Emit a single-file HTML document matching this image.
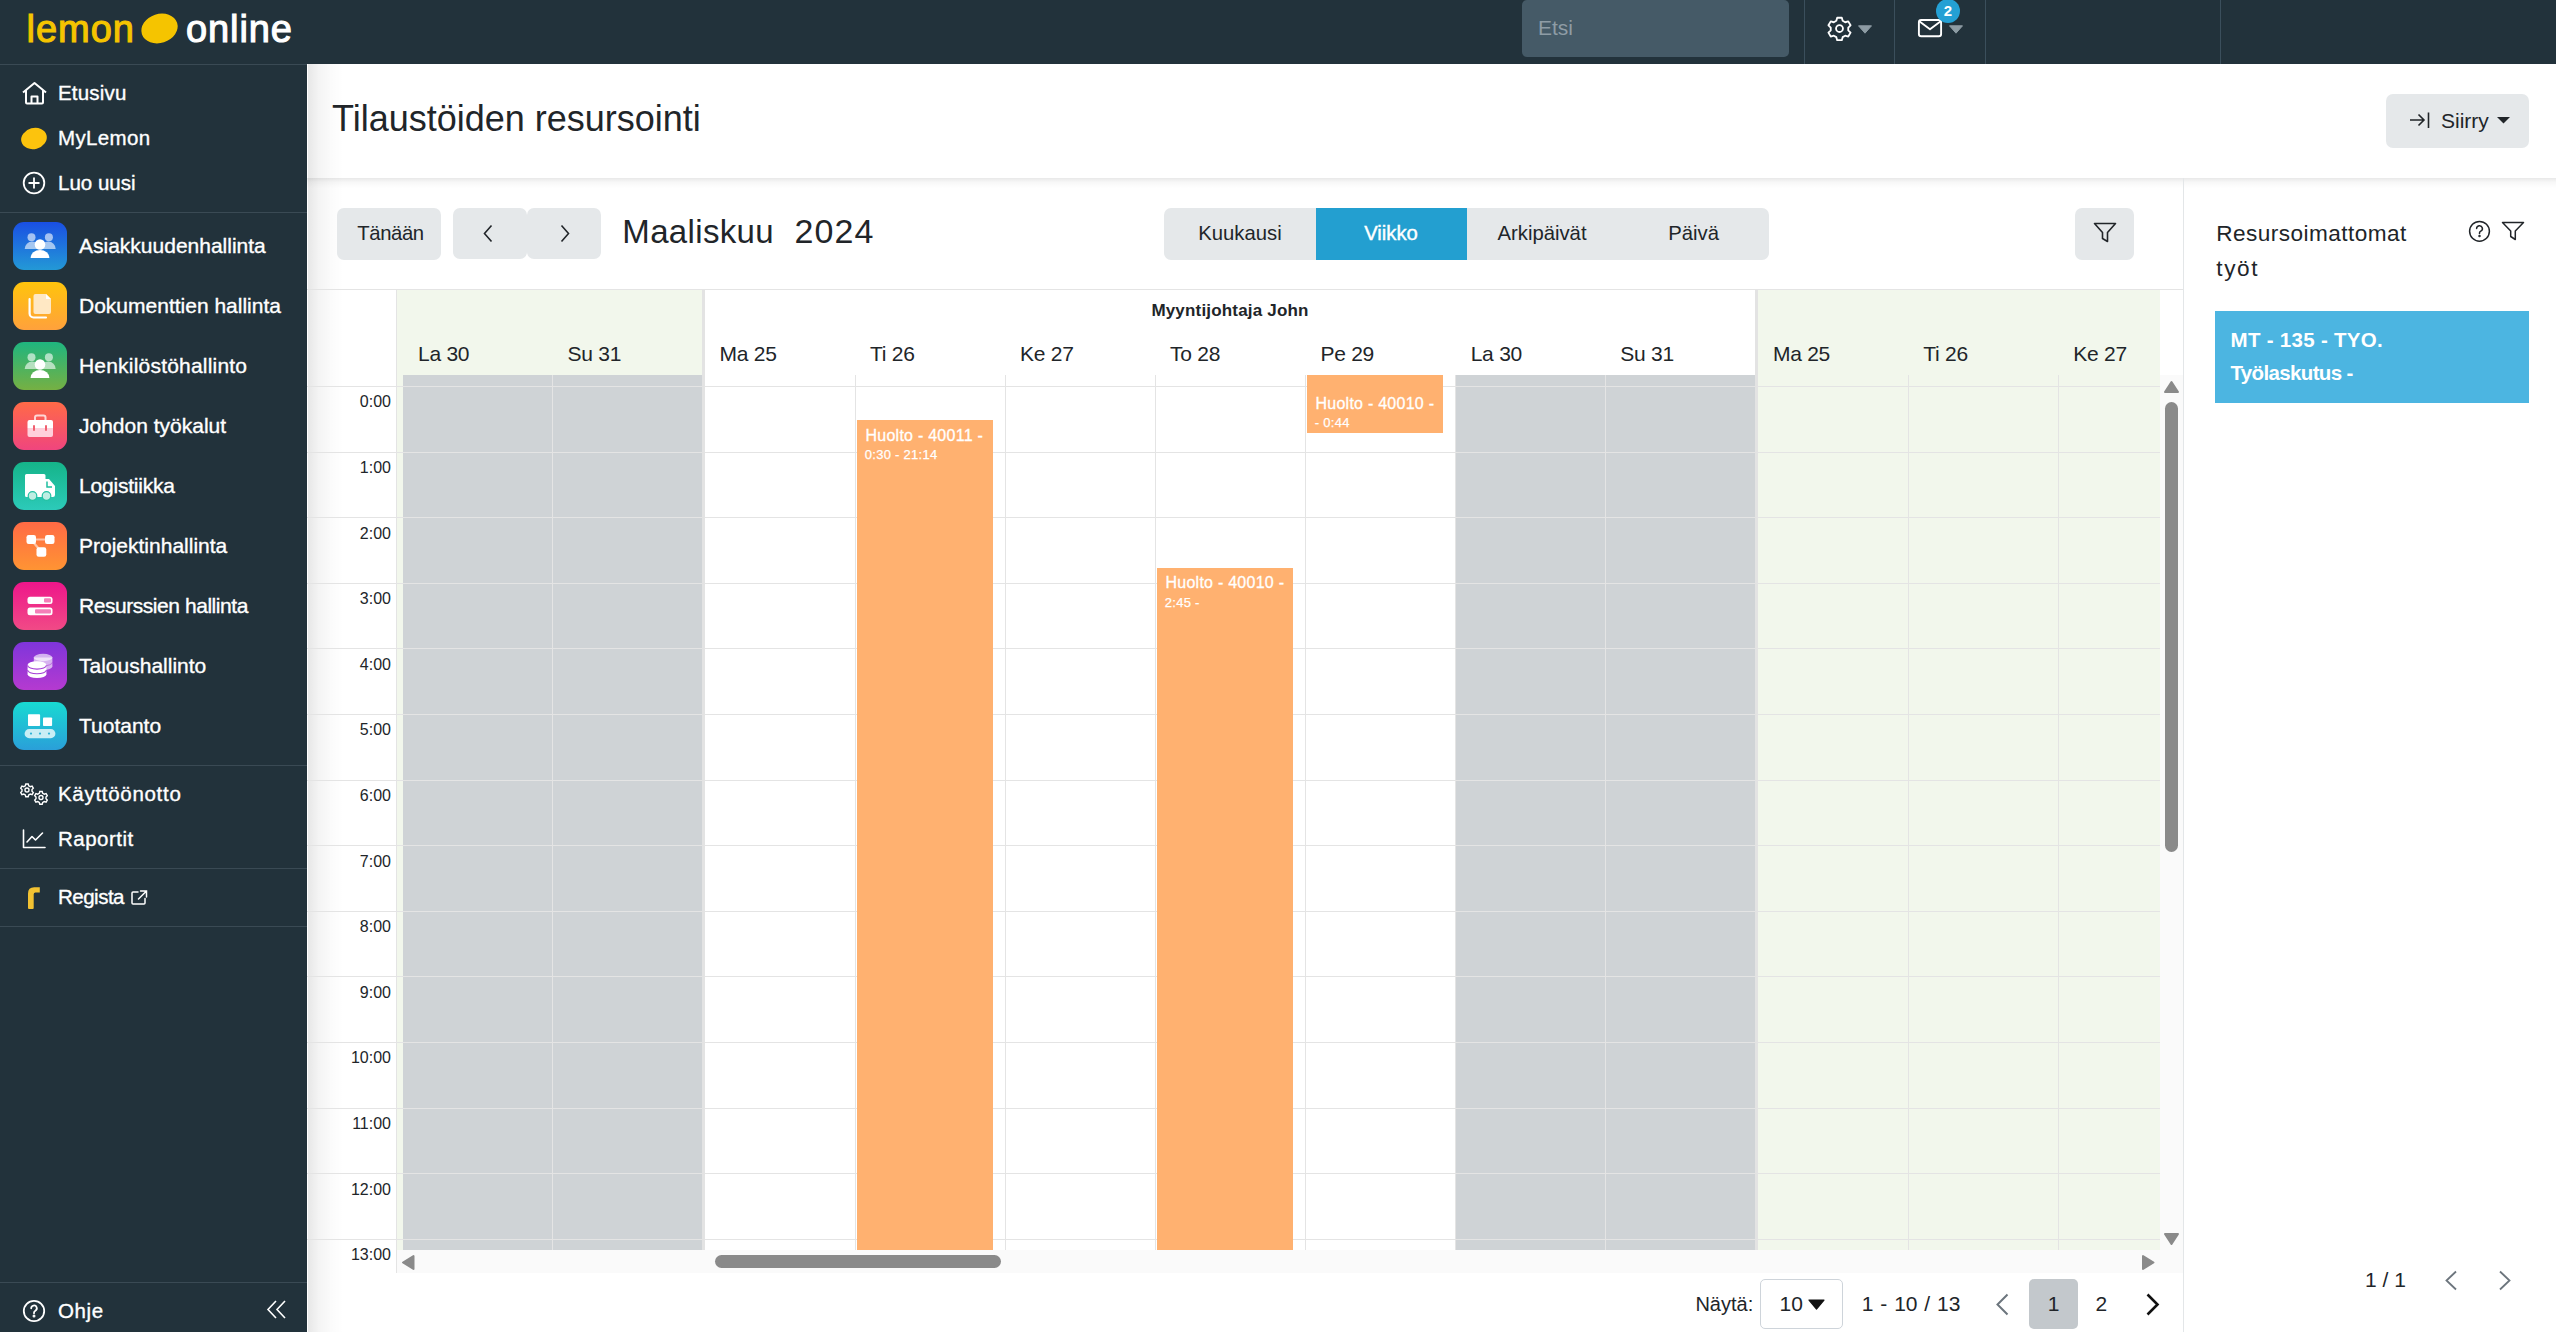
<!DOCTYPE html>
<html><head><meta charset="utf-8">
<style>
*{box-sizing:border-box;margin:0;padding:0}
html,body{width:2556px;height:1332px;overflow:hidden;background:#fff;font-family:"Liberation Sans",sans-serif;color:#212529}
.a{position:absolute}
.t{position:absolute;white-space:nowrap;line-height:1}
#top{left:0;top:0;width:2556px;height:64px;background:#22323b}
#side{left:0;top:64px;width:307px;height:1268px;background:#22323b}
.sdiv{position:absolute;left:0;width:307px;height:1px;background:#3a4a54}
.st{color:#fff;font-size:20.5px;-webkit-text-stroke:0.35px #fff}
.app{position:absolute;left:13px;width:54px;height:48px;border-radius:11px}
.apt{color:#fff;font-size:21px;left:79px;-webkit-text-stroke:0.35px #fff}
.vdiv{position:absolute;top:0;width:1px;height:64px;background:#3b4f5c}
</style></head><body>
<!-- TOP BAR -->
<div id="top" class="a">
  <div class="t" style="left:26.5px;top:10px;font-size:38px;color:#f5c400;-webkit-text-stroke:1.1px #f5c400;letter-spacing:1px">lemon</div>
  <div class="a" style="left:141px;top:14px;width:37px;height:29px;border-radius:50%;background:#f5c400;transform:rotate(-18deg)"></div>
  <div class="t" style="left:186px;top:10px;font-size:38px;color:#fff;-webkit-text-stroke:1.1px #fff;letter-spacing:0.9px">online</div>
  <div class="a" style="left:1522px;top:0px;width:267px;height:57px;border-radius:5px;background:#455a67"></div>
  <div class="t" style="left:1538px;top:17px;font-size:21px;color:#8e9ca5">Etsi</div>
  <div class="vdiv" style="left:1804px"></div>
  <div class="vdiv" style="left:1894px"></div>
  <div class="vdiv" style="left:1985px"></div>
  <div class="vdiv" style="left:2220px"></div>
</div>
<!-- SIDEBAR -->
<div id="side" class="a">
  <div class="sdiv" style="top:0"></div>
  <!-- home -->
  <svg class="a" style="left:21px;top:17px" width="27" height="24" viewBox="0 0 27 24" fill="none" stroke="#fff" stroke-width="2" stroke-linejoin="round"><path d="M2 11.5 L13.5 2 L25 11.5"/><path d="M5 9 V21.5 a1 1 0 0 0 1 1 H21 a1 1 0 0 0 1 -1 V9"/><path d="M10.5 22.5 V15.5 H16.5 V22.5"/></svg>
  <div class="t st" style="left:58px;top:19.3px;letter-spacing:0.2px">Etusivu</div>
  <div class="a" style="left:21px;top:64px;width:26px;height:21px;border-radius:50%;background:#fcc30d;transform:rotate(-15deg)"></div>
  <div class="t st" style="left:58px;top:63.8px;letter-spacing:0.35px">MyLemon</div>
  <svg class="a" style="left:22px;top:107px" width="24" height="24" viewBox="0 0 24 24" fill="none" stroke="#fff" stroke-width="1.8"><circle cx="12" cy="12" r="10.3"/><path d="M12 6.5V17.5M6.5 12H17.5"/></svg>
  <div class="t st" style="left:58px;top:109.2px">Luo uusi</div>
  <div class="sdiv" style="top:148px"></div>
  <div class="app" style="top:158px;background:linear-gradient(180deg,#1a4fe3 0%,#2399d6 100%)"><svg width="54" height="48" viewBox="0 0 54 48"><circle cx="18.5" cy="15.3" r="4" fill="#fff" fill-opacity=".6"/><circle cx="35.9" cy="15.3" r="4" fill="#fff" fill-opacity=".6"/><path d="M11.7 27 a7.5 7.5 0 0 1 15 0 Z M27.7 27 a7.5 7.5 0 0 1 15 0 Z" fill="#fff" fill-opacity=".6"/><circle cx="27" cy="22.5" r="5.3" fill="#fff" stroke="none"/><circle cx="27" cy="22.5" r="6.3" fill="none" stroke="#000" stroke-opacity="0"/><path d="M17.6 36 a9.4 8 0 0 1 18.8 0 Z" fill="#fff"/></svg></div>
  <div class="t apt" style="top:170.5px">Asiakkuudenhallinta</div>
  <div class="app" style="top:218px;background:linear-gradient(180deg,#ffc40c 0%,#ffa13c 100%)"><svg width="54" height="48" viewBox="0 0 54 48"><path d="M16.6 17 V31.5 a4 4 0 0 0 4 4 H33" fill="none" stroke="#fff" stroke-width="2.2" stroke-linecap="round"/><path d="M22.5 12 H33 L38 17 V30 a2 2 0 0 1 -2 2 H22.5 a2 2 0 0 1 -2 -2 V14 a2 2 0 0 1 2 -2 Z" fill="#ffe8c4"/><path d="M33 12 L38 17 H33 Z" fill="#fff"/></svg></div>
  <div class="t apt" style="top:230.5px">Dokumenttien hallinta</div>
  <div class="app" style="top:278px;background:linear-gradient(180deg,#1fb57f 0%,#76b043 100%)"><svg width="54" height="48" viewBox="0 0 54 48"><circle cx="18.5" cy="15.3" r="4" fill="#fff" fill-opacity=".6"/><circle cx="35.9" cy="15.3" r="4" fill="#fff" fill-opacity=".6"/><path d="M11.7 27 a7.5 7.5 0 0 1 15 0 Z M27.7 27 a7.5 7.5 0 0 1 15 0 Z" fill="#fff" fill-opacity=".6"/><circle cx="27" cy="22.5" r="5.3" fill="#fff" stroke="none"/><circle cx="27" cy="22.5" r="6.3" fill="none" stroke="#000" stroke-opacity="0"/><path d="M17.6 36 a9.4 8 0 0 1 18.8 0 Z" fill="#fff"/></svg></div>
  <div class="t apt" style="top:290.5px;letter-spacing:0.2px">Henkilöstöhallinto</div>
  <div class="app" style="top:338px;background:linear-gradient(180deg,#ff6a47 0%,#f0457e 100%)"><svg width="54" height="48" viewBox="0 0 54 48"><path d="M22 18 V15.5 a2 2 0 0 1 2 -2 H30.5 a2 2 0 0 1 2 2 V18" fill="none" stroke="#fff" stroke-opacity=".75" stroke-width="2"/><path d="M16.5 18 H38 a2 2 0 0 1 2 2 V26 H14.5 V20 a2 2 0 0 1 2 -2Z" fill="#fff"/><path d="M14.5 26 H40 V33 a2 2 0 0 1 -2 2 H16.5 a2 2 0 0 1 -2 -2Z" fill="#ffd0dc"/><rect x="20" y="23" width="2" height="6" rx="1" fill="#f06070"/><rect x="32" y="23" width="2" height="6" rx="1" fill="#f06070"/></svg></div>
  <div class="t apt" style="top:350.5px">Johdon työkalut</div>
  <div class="app" style="top:398px;background:linear-gradient(180deg,#15b489 0%,#2ccab9 100%)"><svg width="54" height="48" viewBox="0 0 54 48"><path d="M13.5 12 H31 a1.5 1.5 0 0 1 1.5 1.5 V17 H36 L42 24 V33 a2 2 0 0 1 -2 2 H13.5 a1.5 1.5 0 0 1 -1.5 -1.5 V13.5 A1.5 1.5 0 0 1 13.5 12Z" fill="#fff"/><path d="M34 19.5 V25 H39" fill="none" stroke="#1fbfa0" stroke-width="1.5"/><circle cx="19.5" cy="34" r="4.3" fill="#bfeee3" stroke="#22c1a3" stroke-width="1.2"/><circle cx="33.5" cy="34" r="4.3" fill="#bfeee3" stroke="#22c1a3" stroke-width="1.2"/></svg></div>
  <div class="t apt" style="top:410.5px;letter-spacing:-0.2px">Logistiikka</div>
  <div class="app" style="top:458px;background:linear-gradient(180deg,#ff6a45 0%,#ff9433 100%)"><svg width="54" height="48" viewBox="0 0 54 48"><path d="M18 17.5 H37 M18 17.5 L28.5 30" stroke="#fff" stroke-opacity=".55" stroke-width="2.2" fill="none"/><rect x="13.5" y="13" width="9.5" height="9" rx="2.2" fill="#fff"/><rect x="32" y="13" width="9.5" height="9" rx="2.2" fill="#fff"/><rect x="23.5" y="25.3" width="9.8" height="9.5" rx="2.2" fill="#fff"/></svg></div>
  <div class="t apt" style="top:470.5px">Projektinhallinta</div>
  <div class="app" style="top:518px;background:linear-gradient(180deg,#ee168a 0%,#f14a86 100%)"><svg width="54" height="48" viewBox="0 0 54 48"><rect x="14.5" y="14.8" width="25" height="7.3" rx="2.5" fill="#fff"/><rect x="31" y="16.3" width="7" height="4.3" rx="1" fill="#f47fb8"/><rect x="14.5" y="25.6" width="25" height="7.6" rx="2.5" fill="#fff"/><rect x="22" y="27.2" width="16" height="4.4" rx="1" fill="#f47fb8"/></svg></div>
  <div class="t apt" style="top:530.5px;letter-spacing:-0.45px">Resurssien hallinta</div>
  <div class="app" style="top:578px;background:linear-gradient(180deg,#7f35db 0%,#b53ad0 100%)"><svg width="54" height="48" viewBox="0 0 54 48"><g fill="#fff" fill-opacity=".62"><ellipse cx="30.1" cy="15.5" rx="9.3" ry="3.7"/><path d="M20.8 15.5 V24.3 a9.3 3.7 0 0 0 18.6 0 V15.5Z"/></g><path d="M20.8 20.2 a9.3 3.7 0 0 0 18.6 0" fill="none" stroke="#a83fd8" stroke-width="1" stroke-opacity=".6"/><path d="M14.6 23 V32.2 a9.4 3.8 0 0 0 18.8 0 V23Z" fill="#fff"/><ellipse cx="24" cy="23" rx="9.4" ry="3.8" fill="#fff"/><path d="M14.6 23.3 a9.4 3.8 0 0 0 18.8 0 M14.6 28 a9.4 3.8 0 0 0 18.8 0" fill="none" stroke="#a53ed6" stroke-width="1.1"/></svg></div>
  <div class="t apt" style="top:590.5px">Taloushallinto</div>
  <div class="app" style="top:638px;background:linear-gradient(180deg,#18dad2 0%,#2a9fd9 100%)"><svg width="54" height="48" viewBox="0 0 54 48"><rect x="15" y="12.2" width="12.1" height="11.8" rx="0.8" fill="#fff"/><rect x="30" y="15.4" width="9.1" height="8.6" rx="0.8" fill="#fff"/><rect x="11.6" y="27.1" width="30.8" height="9.1" rx="4.55" fill="#c8eef5"/><circle cx="18" cy="31.6" r="1.1" fill="#2eb3d6"/><circle cx="27" cy="31.6" r="1.1" fill="#2eb3d6"/><circle cx="36" cy="31.6" r="1.1" fill="#2eb3d6"/></svg></div>
  <div class="t apt" style="top:650.5px">Tuotanto</div>
  <div class="sdiv" style="top:701px"></div>
  <svg class="a" style="left:20px;top:719px" width="28" height="22" viewBox="0 0 28 22" fill="none" stroke="#fff" stroke-width="1.4"><g transform="translate(7,7)"><path d="M-1.2 -6 h2.4 l0.5 1.8 l1.6 0.9 l1.8 -0.6 l1.2 2.1 l-1.3 1.3 v1.8 l1.3 1.3 l-1.2 2.1 l-1.8 -0.6 l-1.6 0.9 l-0.5 1.8 h-2.4 l-0.5 -1.8 l-1.6 -0.9 l-1.8 0.6 l-1.2 -2.1 l1.3 -1.3 v-1.8 l-1.3 -1.3 l1.2 -2.1 l1.8 0.6 l1.6 -0.9 z"/><circle r="2"/></g><g transform="translate(21,14.5)"><path d="M-1.2 -6 h2.4 l0.5 1.8 l1.6 0.9 l1.8 -0.6 l1.2 2.1 l-1.3 1.3 v1.8 l1.3 1.3 l-1.2 2.1 l-1.8 -0.6 l-1.6 0.9 l-0.5 1.8 h-2.4 l-0.5 -1.8 l-1.6 -0.9 l-1.8 0.6 l-1.2 -2.1 l1.3 -1.3 v-1.8 l-1.3 -1.3 l1.2 -2.1 l1.8 0.6 l1.6 -0.9 z"/><circle r="2"/></g></svg>
  <div class="t st" style="left:58px;top:720px;letter-spacing:0.7px">Käyttöönotto</div>
  <svg class="a" style="left:22px;top:765px" width="24" height="20" viewBox="0 0 24 20" fill="none" stroke="#fff" stroke-width="1.6" stroke-linejoin="round" stroke-linecap="round"><path d="M1.5 1 V18.5 H23"/><path d="M5 13 L10 7.5 L13.5 11 L20.5 4"/></svg>
  <div class="t st" style="left:58px;top:765px;letter-spacing:0.5px">Raportit</div>
  <div class="sdiv" style="top:804px"></div>
  <svg class="a" style="left:27px;top:822px" width="14" height="24" viewBox="0 0 14 24"><path d="M1 22 V7.5 Q1 1.2 7.2 1.2 H12.8 V6.5 H8.4 Q6.7 6.5 6.7 8.3 V22 Q6.7 23 5.7 23 H2 Q1 23 1 22Z" fill="#f2c232"/></svg>
  <div class="t st" style="left:58px;top:823px;letter-spacing:-0.5px">Regista</div>
  <svg class="a" style="left:131px;top:826px" width="17" height="15" viewBox="0 0 17 15" fill="none" stroke="#fff" stroke-width="1.5" stroke-linecap="round"><path d="M7 2 H2 a1 1 0 0 0 -1 1 V13 a1 1 0 0 0 1 1 H13 a1 1 0 0 0 1 -1 V8.5"/><path d="M9.5 1 H15.5 V7 M15.5 1 L7.5 9"/></svg>
  <div class="sdiv" style="top:862px"></div>
  <div class="sdiv" style="top:1218px"></div>
  <svg class="a" style="left:22px;top:1235px" width="24" height="24" viewBox="0 0 24 24" fill="none" stroke="#fff" stroke-width="1.8"><circle cx="12" cy="12" r="10.2"/><path d="M9.2 9.3 a2.8 2.8 0 1 1 4.2 2.4 c-0.9 0.5 -1.4 1 -1.4 2 v0.6" stroke-linecap="round"/><circle cx="12" cy="17" r="0.6" fill="#fff"/></svg>
  <div class="t st" style="left:58px;top:1237px;letter-spacing:0.6px">Ohje</div>
  <svg class="a" style="left:266px;top:1236px" width="21" height="19" viewBox="0 0 21 19" fill="none" stroke="#fff" stroke-width="1.6"><path d="M10 1 L2 9.5 L10 18 M19 1 L11 9.5 L19 18"/></svg>
</div>
<div id="main">
<svg class="a" style="left:1826.5px;top:15.5px" width="25" height="25" viewBox="0 0 26 26" fill="none" stroke="#fff" stroke-width="1.9" stroke-linejoin="round"><path d="M10.6 1.8 h4.8 l0.9 3.2 l2.6 1.5 l3.2 -0.9 l2.4 4.1 l-2.4 2.3 v3 l2.4 2.3 l-2.4 4.1 l-3.2 -0.9 l-2.6 1.5 l-0.9 3.2 h-4.8 l-0.9 -3.2 l-2.6 -1.5 l-3.2 0.9 l-2.4 -4.1 l2.4 -2.3 v-3 l-2.4 -2.3 l2.4 -4.1 l3.2 0.9 l2.6 -1.5 z"/><circle cx="13" cy="13" r="3.6"/></svg>
<svg class="a" style="left:1858px;top:25px" width="14" height="9" viewBox="0 0 14 9"><path d="M0.5 0.8 H13.5 L7 8.2Z" fill="#8d9ba3" stroke="#8d9ba3" stroke-width="1" stroke-linejoin="round"/></svg>
<svg class="a" style="left:1917px;top:18px" width="26" height="20" viewBox="0 0 26 20" fill="none" stroke="#fff" stroke-width="1.9" stroke-linejoin="round"><rect x="1.9" y="2" width="22.2" height="16.2" rx="2.3"/><path d="M2.6 3.5 L13 11.3 L23.4 3.5"/></svg>
<svg class="a" style="left:1949px;top:25px" width="14" height="9" viewBox="0 0 14 9"><path d="M0.5 0.8 H13.5 L7 8.2Z" fill="#8d9ba3" stroke="#8d9ba3" stroke-width="1" stroke-linejoin="round"/></svg>
<div class="a" style="left:1936px;top:-1.5px;width:24px;height:24px;border-radius:50%;background:#24a0d4"></div>
<div class="t" style="left:1936px;width:24px;text-align:center;top:2.5px;font-size:15px;font-weight:bold;color:#fff">2</div>
<div class="a" style="left:308px;top:64px;width:36px;height:1268px;background:linear-gradient(90deg,rgba(0,0,0,.095),rgba(0,0,0,.045) 30%,rgba(0,0,0,.015) 65%,rgba(0,0,0,0))"></div>
<div class="a" style="left:307px;top:178px;width:1876px;height:10px;background:linear-gradient(180deg,rgba(0,0,0,.09),rgba(0,0,0,.03) 40%,rgba(0,0,0,0))"></div>
<div class="a" style="left:2183px;top:178px;width:373px;height:10px;background:linear-gradient(180deg,rgba(0,0,0,.09),rgba(0,0,0,.03) 40%,rgba(0,0,0,0))"></div>
<div class="t" style="left:332px;top:100.53px;font-size:36px;font-weight:400;color:#212529;">Tilaustöiden resursointi</div>
<div class="a" style="left:2386px;top:94px;width:143px;height:54px;border-radius:7px;background:#e5e8ea"></div>
<svg class="a" style="left:2409px;top:111px" width="22" height="18" viewBox="0 0 22 18" fill="none" stroke="#212529" stroke-width="1.6"><path d="M1 9 H15 M9.5 3.5 L15 9 L9.5 14.5 M19.5 1.5 V17"/></svg>
<div class="t" style="left:2441px;top:109.82px;font-size:21px;font-weight:400;color:#212529;">Siirry</div>
<svg class="a" style="left:2497px;top:117px" width="13" height="7" viewBox="0 0 13 7"><path d="M0 0 H13 L6.5 6.5Z" fill="#212529"/></svg>
<div class="a" style="left:2183px;top:178px;width:1px;height:1154px;background:#e3e6e8"></div>
<div class="a" style="left:337px;top:208px;width:104px;height:52px;border-radius:7px;background:#e5e8ea"></div>
<div class="t" style="left:357.3px;top:222.82px;font-size:20.3px;font-weight:400;color:#212529;letter-spacing:-0.4px">Tänään</div>
<div class="a" style="left:453px;top:208px;width:74px;height:51px;border-radius:7px;background:#e5e8ea"></div>
<div class="a" style="left:527px;top:208px;width:74px;height:51px;border-radius:7px;background:#e5e8ea"></div>
<svg class="a" style="left:482px;top:224px" width="12" height="19" viewBox="0 0 12 19" fill="none" stroke="#212529" stroke-width="1.6"><path d="M9.5 1.5 L2.5 9.5 L9.5 17.5"/></svg>
<svg class="a" style="left:559px;top:224px" width="12" height="19" viewBox="0 0 12 19" fill="none" stroke="#212529" stroke-width="1.6"><path d="M2.5 1.5 L9.5 9.5 L2.5 17.5"/></svg>
<div class="t" style="left:622.3px;top:214.77px;font-size:33px;font-weight:400;color:#212529;letter-spacing:0.35px">Maaliskuu</div>
<div class="t" style="left:794.5px;top:213.92px;font-size:34px;font-weight:400;color:#212529;letter-spacing:1.1px">2024</div>
<div class="a" style="left:1164px;top:208px;width:605px;height:52px;border-radius:7px;background:#e5e8ea;overflow:hidden"><div class="a" style="left:152px;top:0;width:151px;height:52px;background:#239fd0"></div></div>
<div class="t" style="left:1140px;width:200px;text-align:center;top:222.82px;font-size:20.3px;color:#212529">Kuukausi</div>
<div class="t" style="left:1291px;width:200px;text-align:center;top:222.82px;font-size:20.3px;color:#fff;-webkit-text-stroke:0.4px #fff">Viikko</div>
<div class="t" style="left:1442px;width:200px;text-align:center;top:222.82px;font-size:20.3px;color:#212529">Arkipäivät</div>
<div class="t" style="left:1593.6px;width:200px;text-align:center;top:222.82px;font-size:20.3px;color:#212529">Päivä</div>
<div class="a" style="left:2075px;top:208px;width:59px;height:52px;border-radius:7px;background:#e5e8ea"></div>
<svg class="a" style="left:2093px;top:222px" width="24" height="21" viewBox="0 0 24 21" fill="none" stroke="#212529" stroke-width="1.6" stroke-linejoin="round"><path d="M1.5 1.5 H22.5 L14.5 10.5 V19.5 L9.5 16.5 V10.5 Z"/></svg>
<div class="t" style="left:2216.3px;top:222.77px;font-size:22.6px;font-weight:400;color:#212529;letter-spacing:0.45px">Resursoimattomat</div>
<div class="t" style="left:2216.3px;top:258.47px;font-size:22.6px;font-weight:400;color:#212529;letter-spacing:1.6px">työt</div>
<svg class="a" style="left:2468px;top:220px" width="23" height="23" viewBox="0 0 23 23" fill="none" stroke="#212529" stroke-width="1.5"><circle cx="11.5" cy="11.3" r="9.9"/><path d="M8.6 8.6 a2.9 2.9 0 1 1 4.2 2.6 c-0.8 0.4 -1.3 0.9 -1.3 1.8 v0.5" stroke-linecap="round"/><circle cx="11.5" cy="16" r="0.5" fill="#212529"/></svg>
<svg class="a" style="left:2501px;top:221px" width="24" height="20" viewBox="0 0 24 20" fill="none" stroke="#212529" stroke-width="1.5" stroke-linejoin="round"><path d="M1.5 1.5 H22.5 L14.3 10 V18.5 L9.7 15.5 V10 Z"/></svg>
<div class="a" style="left:2215px;top:311px;width:314px;height:92px;background:#4cb5e1"></div>
<div class="t" style="left:2230.5px;top:330.15px;font-size:20.5px;font-weight:700;color:#fff;letter-spacing:0.3px">MT - 135 - TYO.</div>
<div class="t" style="left:2230.5px;top:362.65px;font-size:20.5px;font-weight:700;color:#fff;letter-spacing:-0.65px">Työlaskutus -</div>
<div class="t" style="left:2365px;top:1268.82px;font-size:21px;font-weight:400;color:#212529;">1 / 1</div>
<svg class="a" style="left:2443px;top:1270px" width="16" height="21" viewBox="0 0 16 21" fill="none" stroke="#6c757d" stroke-width="1.8"><path d="M13 1.5 L3.5 10.5 L13 19.5"/></svg>
<svg class="a" style="left:2497px;top:1270px" width="16" height="21" viewBox="0 0 16 21" fill="none" stroke="#6c757d" stroke-width="1.8"><path d="M3 1.5 L12.5 10.5 L3 19.5"/></svg>
<div class="a" style="left:307px;top:289px;width:1876px;height:1px;background:#e4e4e4"></div>
<div class="a" style="left:397px;top:290px;width:305px;height:960px;background:#f2f7ec"></div>
<div class="a" style="left:1758px;top:290px;width:402px;height:960px;background:#f2f7ec"></div>
<div class="a" style="left:403px;top:375px;width:299px;height:875px;background:#cfd3d6"></div>
<div class="a" style="left:1456px;top:375px;width:299px;height:875px;background:#cfd3d6"></div>
<div class="a" style="left:307px;top:385.9px;width:1853px;height:1px;background:#e4e4e4"></div>
<div class="a" style="left:307px;top:451.5px;width:1853px;height:1px;background:#e4e4e4"></div>
<div class="a" style="left:307px;top:517.1px;width:1853px;height:1px;background:#e4e4e4"></div>
<div class="a" style="left:307px;top:582.7px;width:1853px;height:1px;background:#e4e4e4"></div>
<div class="a" style="left:307px;top:648.3px;width:1853px;height:1px;background:#e4e4e4"></div>
<div class="a" style="left:307px;top:713.9px;width:1853px;height:1px;background:#e4e4e4"></div>
<div class="a" style="left:307px;top:779.5px;width:1853px;height:1px;background:#e4e4e4"></div>
<div class="a" style="left:307px;top:845.1px;width:1853px;height:1px;background:#e4e4e4"></div>
<div class="a" style="left:307px;top:910.7px;width:1853px;height:1px;background:#e4e4e4"></div>
<div class="a" style="left:307px;top:976.3px;width:1853px;height:1px;background:#e4e4e4"></div>
<div class="a" style="left:307px;top:1041.9px;width:1853px;height:1px;background:#e4e4e4"></div>
<div class="a" style="left:307px;top:1107.5px;width:1853px;height:1px;background:#e4e4e4"></div>
<div class="a" style="left:307px;top:1173.1px;width:1853px;height:1px;background:#e4e4e4"></div>
<div class="a" style="left:307px;top:1238.7px;width:1853px;height:1px;background:#e4e4e4"></div>
<div class="a" style="left:702px;top:290px;width:3px;height:960px;background:#e3e3e3"></div>
<div class="a" style="left:1755px;top:290px;width:3px;height:960px;background:#e3e3e3"></div>
<div class="a" style="left:396px;top:290px;width:1px;height:983px;background:#e4e4e4"></div>
<div class="a" style="left:552px;top:375px;width:1px;height:875px;background:#e4e4e4"></div>
<div class="a" style="left:855px;top:375px;width:1px;height:875px;background:#e4e4e4"></div>
<div class="a" style="left:1005px;top:375px;width:1px;height:875px;background:#e4e4e4"></div>
<div class="a" style="left:1155px;top:375px;width:1px;height:875px;background:#e4e4e4"></div>
<div class="a" style="left:1305px;top:375px;width:1px;height:875px;background:#e4e4e4"></div>
<div class="a" style="left:1455px;top:375px;width:1px;height:875px;background:#e4e4e4"></div>
<div class="a" style="left:1605px;top:375px;width:1px;height:875px;background:#e4e4e4"></div>
<div class="a" style="left:1908px;top:375px;width:1px;height:875px;background:#e4e4e4"></div>
<div class="a" style="left:2058px;top:375px;width:1px;height:875px;background:#e4e4e4"></div>
<div class="t" style="left:291px;width:100px;text-align:right;top:394.3px;font-size:16px;color:#212529">0:00</div>
<div class="t" style="left:291px;width:100px;text-align:right;top:459.9px;font-size:16px;color:#212529">1:00</div>
<div class="t" style="left:291px;width:100px;text-align:right;top:525.5px;font-size:16px;color:#212529">2:00</div>
<div class="t" style="left:291px;width:100px;text-align:right;top:591.1px;font-size:16px;color:#212529">3:00</div>
<div class="t" style="left:291px;width:100px;text-align:right;top:656.7px;font-size:16px;color:#212529">4:00</div>
<div class="t" style="left:291px;width:100px;text-align:right;top:722.3px;font-size:16px;color:#212529">5:00</div>
<div class="t" style="left:291px;width:100px;text-align:right;top:787.9px;font-size:16px;color:#212529">6:00</div>
<div class="t" style="left:291px;width:100px;text-align:right;top:853.5px;font-size:16px;color:#212529">7:00</div>
<div class="t" style="left:291px;width:100px;text-align:right;top:919.1px;font-size:16px;color:#212529">8:00</div>
<div class="t" style="left:291px;width:100px;text-align:right;top:984.7px;font-size:16px;color:#212529">9:00</div>
<div class="t" style="left:291px;width:100px;text-align:right;top:1050.3px;font-size:16px;color:#212529">10:00</div>
<div class="t" style="left:291px;width:100px;text-align:right;top:1115.9px;font-size:16px;color:#212529">11:00</div>
<div class="t" style="left:291px;width:100px;text-align:right;top:1181.5px;font-size:16px;color:#212529">12:00</div>
<div class="t" style="left:291px;width:100px;text-align:right;top:1247.1px;font-size:16px;color:#212529">13:00</div>
<div class="t" style="left:1030px;width:400px;text-align:center;top:301.5px;font-size:17px;font-weight:bold;color:#212529;letter-spacing:0.18px">Myyntijohtaja John</div>
<div class="t" style="left:418.0px;top:343.22px;font-size:21px;font-weight:400;color:#212529;letter-spacing:-0.25px">La 30</div>
<div class="t" style="left:567.6px;top:343.22px;font-size:21px;font-weight:400;color:#212529;letter-spacing:-0.25px">Su 31</div>
<div class="t" style="left:719.5px;top:343.22px;font-size:21px;font-weight:400;color:#212529;letter-spacing:-0.25px">Ma 25</div>
<div class="t" style="left:870.0px;top:343.22px;font-size:21px;font-weight:400;color:#212529;letter-spacing:-0.25px">Ti 26</div>
<div class="t" style="left:1020.0px;top:343.22px;font-size:21px;font-weight:400;color:#212529;letter-spacing:-0.25px">Ke 27</div>
<div class="t" style="left:1170.0px;top:343.22px;font-size:21px;font-weight:400;color:#212529;letter-spacing:-0.25px">To 28</div>
<div class="t" style="left:1320.4px;top:343.22px;font-size:21px;font-weight:400;color:#212529;letter-spacing:-0.25px">Pe 29</div>
<div class="t" style="left:1470.7px;top:343.22px;font-size:21px;font-weight:400;color:#212529;letter-spacing:-0.25px">La 30</div>
<div class="t" style="left:1620.3px;top:343.22px;font-size:21px;font-weight:400;color:#212529;letter-spacing:-0.25px">Su 31</div>
<div class="t" style="left:1772.9px;top:343.22px;font-size:21px;font-weight:400;color:#212529;letter-spacing:-0.25px">Ma 25</div>
<div class="t" style="left:1923.2px;top:343.22px;font-size:21px;font-weight:400;color:#212529;letter-spacing:-0.25px">Ti 26</div>
<div class="t" style="left:2073.3px;top:343.22px;font-size:21px;font-weight:400;color:#212529;letter-spacing:-0.25px">Ke 27</div>
<div class="a" style="left:857px;top:420px;width:136px;height:830px;background:#ffb170"></div>
<div class="a" style="left:1157px;top:568px;width:136px;height:682px;background:#ffb170"></div>
<div class="a" style="left:1307px;top:375px;width:136px;height:57.6px;background:#ffb170"></div>
<div class="t" style="left:865.5px;top:428.06px;font-size:16px;font-weight:400;color:#fff;letter-spacing:0.25px;-webkit-text-stroke:0.3px #fff">Huolto - 40011 -</div>
<div class="t" style="left:864.8px;top:447.70px;font-size:13px;font-weight:400;color:#fff;letter-spacing:0.27px;-webkit-text-stroke:0.25px #fff">0:30 - 21:14</div>
<div class="t" style="left:1165.5px;top:575.26px;font-size:16px;font-weight:400;color:#fff;letter-spacing:0.25px;-webkit-text-stroke:0.3px #fff">Huolto - 40010 -</div>
<div class="t" style="left:1164.8px;top:596.00px;font-size:13px;font-weight:400;color:#fff;letter-spacing:0.27px;-webkit-text-stroke:0.25px #fff">2:45 -</div>
<div class="t" style="left:1315.5px;top:395.76px;font-size:16px;font-weight:400;color:#fff;letter-spacing:0.25px;-webkit-text-stroke:0.3px #fff">Huolto - 40010 -</div>
<div class="t" style="left:1314.8px;top:416.00px;font-size:13px;font-weight:400;color:#fff;letter-spacing:0.27px;-webkit-text-stroke:0.25px #fff">- 0:44</div>
<div class="a" style="left:2160px;top:375px;width:23px;height:875px;background:#fafafa"></div>
<div class="a" style="left:397px;top:1250px;width:1786px;height:23px;background:#fafafa"></div>
<svg class="a" style="left:2163px;top:380px" width="17" height="14" viewBox="0 0 17 14"><path d="M8.5 2 L15 12 H2Z" fill="#8a8a8a" stroke="#8a8a8a" stroke-width="2" stroke-linejoin="round"/></svg>
<div class="a" style="left:2165px;top:402px;width:13px;height:450px;border-radius:6.5px;background:#8a8a8a"></div>
<svg class="a" style="left:2163px;top:1232px" width="17" height="14" viewBox="0 0 17 14"><path d="M8.5 12 L15 2 H2Z" fill="#8a8a8a" stroke="#8a8a8a" stroke-width="2" stroke-linejoin="round"/></svg>
<svg class="a" style="left:401px;top:1254px" width="15" height="17" viewBox="0 0 15 17"><path d="M2 8.5 L12.5 2 V15Z" fill="#8a8a8a" stroke="#8a8a8a" stroke-width="2" stroke-linejoin="round"/></svg>
<div class="a" style="left:715px;top:1255px;width:286px;height:13px;border-radius:6.5px;background:#8a8a8a"></div>
<svg class="a" style="left:2141px;top:1254px" width="15" height="17" viewBox="0 0 15 17"><path d="M12.5 8.5 L2 2 V15Z" fill="#8a8a8a" stroke="#8a8a8a" stroke-width="2" stroke-linejoin="round"/></svg>
<div class="t" style="left:1695.4px;top:1293.7px;font-size:20px;font-weight:400;color:#212529;">Näytä:</div>
<div class="a" style="left:1760px;top:1279px;width:83px;height:50px;border-radius:5px;border:1px solid #ced4da;background:#fff"></div>
<div class="t" style="left:1779.5px;top:1292.8px;font-size:21px;font-weight:400;color:#212529;">10</div>
<svg class="a" style="left:1808px;top:1299px" width="17" height="11" viewBox="0 0 17 11"><path d="M1 1 H16 L8.5 10Z" fill="#111" stroke="#111" stroke-width="1.2" stroke-linejoin="round"/></svg>
<div class="t" style="left:1861.8px;top:1292.8px;font-size:21px;font-weight:400;color:#212529;word-spacing:1px">1 - 10 / 13</div>
<svg class="a" style="left:1995px;top:1293px" width="15" height="23" viewBox="0 0 15 23" fill="none" stroke="#6c757d" stroke-width="2"><path d="M12.5 1.5 L2.5 11.5 L12.5 21.5"/></svg>
<div class="a" style="left:2029px;top:1279px;width:49px;height:50px;border-radius:5px;background:#c3c8cc"></div>
<div class="t" style="left:2003.5px;width:100px;text-align:center;top:1292.8px;font-size:21px;color:#212529">1</div>
<div class="t" style="left:2095.5px;top:1292.8px;font-size:21px;font-weight:400;color:#212529;">2</div>
<svg class="a" style="left:2145px;top:1293px" width="16" height="23" viewBox="0 0 16 23" fill="none" stroke="#111" stroke-width="2.6"><path d="M2.5 1.5 L12.5 11.5 L2.5 21.5"/></svg>
</div>
</body></html>
